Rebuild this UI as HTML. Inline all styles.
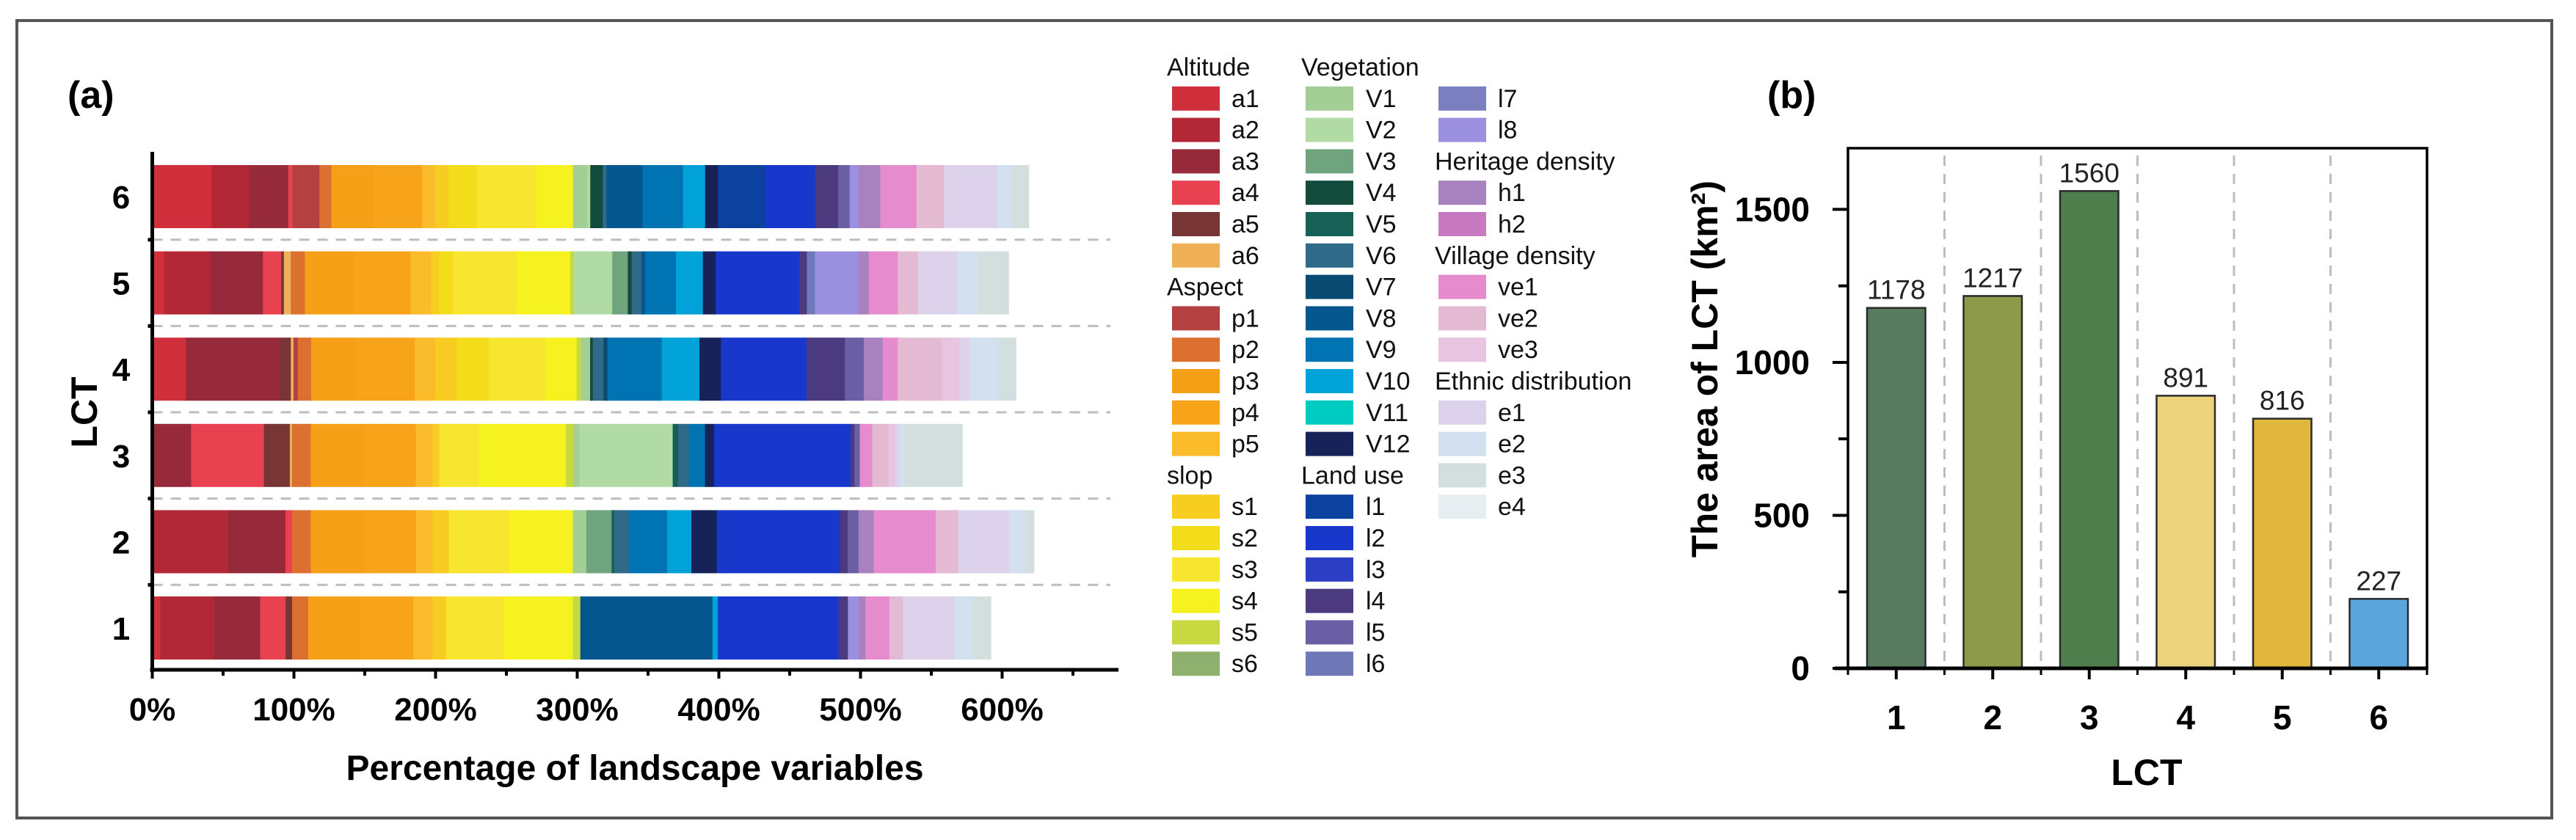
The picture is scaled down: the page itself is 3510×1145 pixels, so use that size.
<!DOCTYPE html>
<html><head><meta charset="utf-8"><style>
html,body{margin:0;padding:0;background:#fff;}
svg{display:block;font-family:"Liberation Sans",Arial,sans-serif;}
</style></head><body>
<svg id="fig" width="3510" height="1145" viewBox="0 0 3510 1145" xmlns="http://www.w3.org/2000/svg">
<rect x="23" y="28" width="3454" height="1087" fill="none" stroke="#555" stroke-width="4"/>
<text x="92" y="147" font-size="52" font-weight="bold">(a)</text>
<text x="2408" y="147" font-size="52" font-weight="bold">(b)</text>
<g id="pa"></g>
<g id="lg"></g>
<g id="pb"></g>
</svg>
<script>
const NS="http://www.w3.org/2000/svg";
// ---- Panel (a) data ----
const varNames=["a1","a2","a3","a4","a5","a6","p1","p2","p3","p4","p5","s1","s2","s3","s4","s5","s6","V1","V2","V3","V4","V5","V6","V7","V8","V9","V10","V11","V12","l1","l2","l3","l4","l5","l6","l7","l8","h1","h2","ve1","ve2","ve3","e1","e2","e3","e4"];
const varColors=["#d0303b","#b22836","#972a3a","#e8414f","#783535","#f0b057","#b54040","#db7030","#f5a016","#f8a41a","#fbbc2c","#f7cd22","#f3dc1a","#f7e530","#f5f220","#c7d840","#8fb06e","#a3cf96","#b0dba5","#70a47e","#124a3c","#166055","#2f6a88","#084a70","#04568f","#0074b3","#00a2d8","#00cbc0","#172358","#0c41a0","#1838cc","#2c3fc4","#4b3a7e","#6a5fa5","#7079b8","#7b7fc0","#9b8fe0","#a882bf","#c87ac0","#e68cce","#e3bad2","#e9c4e0","#dcd2ec","#d2e0f0","#d3dfde","#e6eef2"];
const lctCats=["1","2","3","4","5","6"];
//            a1   a2   a3   a4   a5  a6  p1   p2   p3   p4   p5   s1   s2   s3   s4   s5  s6 V1   V2   V3   V4  V5  V6  V7  V8   V9   V10  V11 V12  l1   l2   l3 l4   l5   l6  l7 l8   h1   h2 ve1  ve2  ve3  e1   e2   e3   e4
const lct1=[5.7,38.1,32.4,17.9,4.6,0,  0,  11.4,36.5,37.7,13.7,9.5, 0,  40.7,48.7,5.3,0, 0,   0,   0,   0,  0,  0,  0,  93.3,0,   3.8, 0,  0,   0,   85.3,0, 6.5, 0,   0,  0, 7.6, 4.9, 0, 16.8,9.5, 0,   36.2,13.3,12.6,0];
const lct2=[0,  53.3,40.7,4.6, 0,  0,  0,  13.3,38.1,36.2,11.8,11.4,0,  42.6,44.9,0,  0, 9.5, 0,   17.9,0,  1.9,10.3,0, 0,   27.0,17.1,0,  17.9,0,   86.8,0, 5.7, 7.6, 0,  0, 0,   10.7,0, 43.8,16.0,0,   36.2,11.4,5.7, 0];
const lct3=[0,  0,   27.4,51.4,18.3,1.5,0, 13.3,37.3,36.9,11.8,4.6, 0,  27.8,61.7,5.7,0, 3.8, 65.9,0,   0,  3.8,7.6,0,  0,   11.4,0,   0,  6.5, 0,   96.3,0, 2.7, 3.8, 0,  0, 0,   0,   0, 8.8, 11.4,4.6, 3.0, 3.8, 40.7,0];
const lct4=[23.6,0,  66.6,0,   7.6,1.9,3.0,9.5, 31.2,41.9,14.5,15.2,22.5,40.0,22.1,3.0,0,6.5, 0,   0,   1.9,0,  7.6,2.7,0,   38.4,26.6,0,  15.2,0,   60.5,0, 27.0,13.3,0,  0, 0,   13.3,0, 10.7,31.2,12.2,7.6, 20.2,12.2,0];
const lct5=[8.4,32.4,37.3,12.9,1.9,4.9,0,  9.9, 34.6,40.0,14.5,5.7, 9.5,44.9,38.1,2.7,0, 0,   27.0,11.0,2.7,0,  6.9,0,  2.7, 21.7,19.0,0,  9.1, 0,   59.0,0, 5.3, 0,   5.7,0, 30.8,7.2, 0, 20.6,14.1,0,   27.8,14.1,22.1,0];
const lct6=[41.9,26.3,27.8,3.0,0,  0,  19.0,8.4,29.7,34.3,9.5, 9.5, 19.8,41.9,25.9,0,  0, 10.3,1.9, 0,   8.8,0,  2.7,0,  25.5,28.5,15.6,0,  9.1, 33.5,35.0,0, 16.4,8.0, 0,  0, 6.5, 15.2,0, 25.5,19.4,0,   38.1,10.3,11.4,0];
const lctRows=[lct1,lct2,lct3,lct4,lct5,lct6];
const xTicksA=[0,100,200,300,400,500,600];
// ---- Panel (b) data ----
const areaCats=["1","2","3","4","5","6"];
const areaVals=[1178,1217,1560,891,816,227];
const areaColors=["#587a5e","#8c9a4a","#4e7e4c","#ecd27a","#e0b63c","#5aa6dc"];
const yTicksB=[0,500,1000,1500];

function el(tag,attrs,parent,text){const e=document.createElementNS(NS,tag);for(const k in attrs)e.setAttribute(k,attrs[k]);if(text!==undefined)e.textContent=text;parent.appendChild(e);return e;}

// Panel (a)
const pa=document.getElementById('pa');
const ax0=207.5, axPer=1.93, axEnd=1524, axY=913, axTop=207;
const xA=v=>ax0+v*axPer;
const rowCenter=i=>856-i*117.6;
const barH=86;
// dashed separators
for(let i=0;i<5;i++){const y=rowCenter(i)-58.8;
 const d=el('line',{x1:ax0,x2:1513,y1:y,y2:y,stroke:'#bdbdbd','stroke-width':3,'stroke-dasharray':'14 11'},pa);
 
 
 const t=el('line',{x1:ax0-6,x2:ax0,y1:y,y2:y,stroke:'#000','stroke-width':5},pa);
 
 
}
lctRows.forEach((row,i)=>{let cum=0;const cy=rowCenter(i);
 row.forEach((v,j)=>{if(v<=0)return;
  const r=el('rect',{x:xA(cum),y:cy-barH/2,width:v*axPer+0.6,height:barH,fill:varColors[j]},pa);
  
  
  cum+=v;});
 const lb=el('text',{x:165,y:cy+16,'font-size':44,'font-weight':'bold','text-anchor':'middle'},pa,lctCats[i]);
 
 
});
let a1=el('line',{x1:ax0,x2:ax0,y1:axTop,y2:axY+3,stroke:'#000','stroke-width':5},pa);

let a2=el('line',{x1:ax0-3,x2:axEnd,y1:axY,y2:axY,stroke:'#000','stroke-width':5},pa);

for(let v=0;xA(v)<=axEnd;v+=50){const t=el('line',{x1:xA(v),x2:xA(v),y1:axY,y2:axY+(v%100===0?12:8),stroke:'#000','stroke-width':4},pa);
 }
xTicksA.forEach(v=>{const t=el('text',{x:xA(v),y:982,'font-size':44,'font-weight':'bold','text-anchor':'middle'},pa,v+'%');
 });
let xt=el('text',{x:865,y:1063,'font-size':48,'font-weight':'bold','text-anchor':'middle'},pa,'Percentage of landscape variables');

let yt=el('text',{x:0,y:0,'font-size':50,'font-weight':'bold','text-anchor':'middle',transform:'translate(132,562) rotate(-90)'},pa,'LCT');


// Legend
const lg=document.getElementById('lg');
const cols=[
 {tx:1590,sx:1597,lx:1678,items:[["T","Altitude"],"a1","a2","a3","a4","a5","a6",["T","Aspect"],"p1","p2","p3","p4","p5",["T","slop"],"s1","s2","s3","s4","s5","s6"]},
 {tx:1773,sx:1779,lx:1861,items:[["T","Vegetation"],"V1","V2","V3","V4","V5","V6","V7","V8","V9","V10","V11","V12",["T","Land use"],"l1","l2","l3","l4","l5","l6"]},
 {tx:1955,sx:1960,lx:2041,items:[null,"l7","l8",["T","Heritage density"],"h1","h2",["T","Village density"],"ve1","ve2","ve3",["T","Ethnic distribution"],"e1","e2","e3","e4"]}
];
cols.forEach(c=>c.items.forEach((it,r)=>{if(!it)return;const cy=91+r*42.8;
 if(Array.isArray(it)){const t=el('text',{x:c.tx,y:cy+12,'font-size':34,fill:'#111'},lg,it[1]);
  return;}
 const j=varNames.indexOf(it);
 const s=el('rect',{x:c.sx,y:cy-16,width:65,height:33,fill:varColors[j]},lg);
 
 const t=el('text',{x:c.lx,y:cy+12,'font-size':34,fill:'#111'},lg,it);
 
}));

// Panel (b)
const pb=document.getElementById('pb');
const bl=2518,br=3307,bt=202,bb=911,ymax=1700;
const yB=v=>bb-v/ymax*(bb-bt);
const bw=(br-bl)/areaCats.length;
const xB=i=>bl+bw*(i+0.5);
for(let i=1;i<areaCats.length;i++){const x=bl+bw*i;
 const d=el('line',{x1:x,x2:x,y1:bt+10,y2:bb,stroke:'#bdbdbd','stroke-width':3,'stroke-dasharray':'14 11'},pb);
 }
areaVals.forEach((v,i)=>{const w=79.5;
 const r=el('rect',{x:xB(i)-w/2,y:yB(v),width:w,height:bb-yB(v),fill:areaColors[i],stroke:'#2a2a2a','stroke-width':2.5},pb);
 
 const t=el('text',{x:xB(i),y:yB(v)-12,'font-size':37,'text-anchor':'middle',fill:'#222'},pb,String(v));
 
 const c=el('text',{x:xB(i),y:994,'font-size':46,'font-weight':'bold','text-anchor':'middle'},pb,areaCats[i]);
 
 const tk=el('line',{x1:xB(i),x2:xB(i),y1:bb,y2:bb+15,stroke:'#000','stroke-width':4},pb);
 
});
for(let i=0;i<=areaCats.length;i++){const x=bl+bw*i;
 const tk=el('line',{x1:x,x2:x,y1:bb,y2:bb+9,stroke:'#000','stroke-width':3},pb);
 }
let fr=el('rect',{x:bl,y:bt,width:br-bl,height:bb-bt,fill:'none',stroke:'#000','stroke-width':3.5},pb);

let xa=el('line',{x1:bl-18,x2:br,y1:bb,y2:bb,stroke:'#000','stroke-width':5},pb);

for(let v=0;v<=ymax;v+=250){const major=v%500===0;
 const tk=el('line',{x1:bl-(major?21:13),x2:bl,y1:yB(v),y2:yB(v),stroke:'#000','stroke-width':4},pb);
 }
yTicksB.forEach(v=>{const t=el('text',{x:2466,y:yB(v)+16,'font-size':46,'font-weight':'bold','text-anchor':'end'},pb,String(v));
 });
let bxt=el('text',{x:2925,y:1070,'font-size':50,'font-weight':'bold','text-anchor':'middle'},pb,'LCT');

let byt=el('text',{x:0,y:0,'font-size':50,'font-weight':'bold','text-anchor':'middle',transform:'translate(2340,503) rotate(-90)'},pb,'The area of LCT (km²)');

</script>
</body></html>
